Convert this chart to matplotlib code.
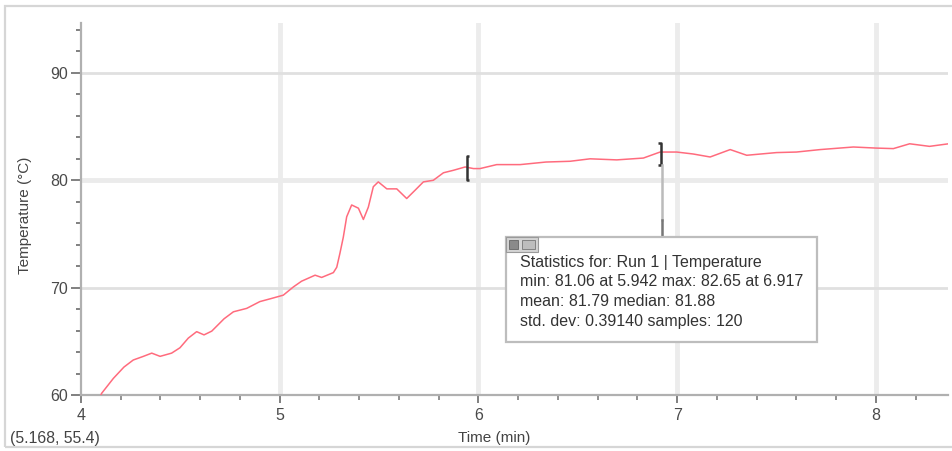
import matplotlib.pyplot as plt
from matplotlib.patches import Rectangle
from matplotlib.ticker import MultipleLocator

plt.rcParams['font.family'] = ['Liberation Sans', 'DejaVu Sans']

# temperature run
time_min = [4.09, 4.104, 4.163, 4.216, 4.263, 4.314, 4.356, 4.398, 4.456, 4.498, 4.54,
            4.582, 4.619, 4.658, 4.72, 4.767, 4.834, 4.9, 4.96, 5.018, 5.069, 5.11,
            5.178, 5.211, 5.27, 5.287, 5.303, 5.32, 5.337, 5.362, 5.396, 5.421, 5.446,
            5.471, 5.496, 5.539, 5.589, 5.639, 5.681, 5.723, 5.773, 5.824, 5.874, 5.933,
            5.975, 6.008, 6.092, 6.21, 6.34, 6.461, 6.562, 6.696, 6.83, 6.914, 6.998,
            7.08, 7.166, 7.267, 7.35, 7.5, 7.6, 7.72, 7.887, 8.0, 8.088, 8.17, 8.27, 8.366]
temp_c = [59.6, 60.16, 61.55, 62.6, 63.26, 63.6, 63.9, 63.6, 63.9, 64.4, 65.3,
          65.9, 65.6, 65.95, 67.1, 67.75, 68.07, 68.7, 69.0, 69.3, 70.07, 70.6,
          71.16, 70.95, 71.4, 71.9, 73.2, 74.7, 76.6, 77.7, 77.4, 76.35, 77.5,
          79.4, 79.85, 79.2, 79.2, 78.3, 79.07, 79.85, 80.0, 80.7, 80.93, 81.24,
          81.09, 81.09, 81.46, 81.46, 81.7, 81.77, 82.0, 81.9, 82.07, 82.63, 82.63,
          82.45, 82.17, 82.86, 82.33, 82.58, 82.63, 82.86, 83.1, 83.0, 82.95, 83.4, 83.16, 83.4]

stat_start, stat_end = 5.942, 6.917
stats_lines = ['Statistics for: Run 1 | Temperature',
               'min: 81.06 at 5.942 max: 82.65 at 6.917',
               'mean: 81.79 median: 81.88',
               'std. dev: 0.39140 samples: 120']

W, H = 953, 451
fig = plt.figure(figsize=(W / 100, H / 100), dpi=100)
ax = fig.add_axes([81 / W, 1 - 395 / H, 867 / W, 372 / H])

ax.plot(time_min, temp_c, '-', color='#ff6b7d', linewidth=1.1, zorder=3)

ax.set_xlim(4, 8.363)
ax.set_ylim(60, 94.65)
ax.xaxis.set_major_locator(MultipleLocator(1))
ax.xaxis.set_minor_locator(MultipleLocator(0.2))
ax.yaxis.set_major_locator(MultipleLocator(10))
ax.yaxis.set_minor_locator(MultipleLocator(2))

for s in ['top', 'right']:
    ax.spines[s].set_visible(False)
for s in ['left', 'bottom']:
    ax.spines[s].set_color('#b0b0b0')
    ax.spines[s].set_linewidth(1.6)

ax.tick_params(axis='y', which='major', length=7.5, width=1.4, color='#808080',
               labelsize=11.5, labelcolor='#4a4a4a', pad=2)
ax.tick_params(axis='y', which='minor', length=3.5, width=1.4, color='#808080')
ax.tick_params(axis='x', which='major', length=5.5, width=1.4, color='#808080',
               labelsize=11.5, labelcolor='#4a4a4a', pad=3.5)
ax.tick_params(axis='x', which='minor', length=3.5, width=1.4, color='#909090')

# grid
for xv in [5, 6, 7, 8]:
    ax.axvline(xv, color='#ececec', linewidth=3.5, zorder=0)
for yv in [70, 90]:
    ax.axhline(yv, color='#e0e0e0', linewidth=2, zorder=0)
ax.axhline(80, color='#ebebeb', linewidth=3.5, zorder=0)

# range brackets of the statistics
def bracket(x, y0, y1, side):
    d = 0.012 * side
    ax.plot([x + d, x, x, x + d], [y1, y1, y0, y0], color='#333333', linewidth=1.8,
            zorder=4, solid_capstyle='butt')

bracket(stat_start, 80.0, 82.3, 1)
bracket(stat_end, 81.4, 83.44, -1)
ax.plot([stat_end + 0.005, stat_end + 0.005], [81.4, 76.3], color='#bbbbbb', linewidth=1.8, zorder=4)
ax.plot([stat_end + 0.005, stat_end + 0.005], [76.3, 74.3], color='#777777', linewidth=1.8, zorder=4)

# statistics box
fig.add_artist(Rectangle((506 / W, 1 - 342 / H), 311 / W, 105 / H, transform=fig.transFigure,
                         facecolor='white', edgecolor='#bdbdbd', linewidth=1.6, zorder=5))
fig.add_artist(Rectangle((506 / W, 1 - 252 / H), 32 / W, 15 / H, transform=fig.transFigure,
                         facecolor='#d4d4d4', edgecolor='#9a9a9a', linewidth=0.8, zorder=6))
fig.add_artist(Rectangle((509 / W, 1 - 249 / H), 9 / W, 9 / H, transform=fig.transFigure,
                         facecolor='#8a8a8a', edgecolor='#666666', linewidth=0.6, zorder=7))
fig.add_artist(Rectangle((522 / W, 1 - 249 / H), 13 / W, 9 / H, transform=fig.transFigure,
                         facecolor='#bdbdbd', edgecolor='#777777', linewidth=0.6, zorder=7))
for i, line in enumerate(stats_lines):
    fig.text(520 / W, 1 - (262 + i * 19.7) / H, line, fontsize=11.5, color='#333333',
             va='center', ha='left', zorder=8)

# labels
fig.text(25 / W, 1 - 215 / H, 'Temperature (°C)', rotation=90, fontsize=11,
         color='#444444', ha='center', va='center')
fig.text(494 / W, 1 - 438 / H, 'Time (min)', fontsize=11, color='#444444',
         ha='center', va='center')
fig.text(10 / W, 1 - 438 / H, '(5.168, 55.4)', fontsize=11.4, color='#444444',
         ha='left', va='center')

# outer frame
fig.add_artist(Rectangle((5 / W, 4 / H), 1.0, 441 / H, transform=fig.transFigure,
                         fill=False, edgecolor='#d6d6d6', linewidth=1.6))

fig.savefig('out.png', dpi=100)
